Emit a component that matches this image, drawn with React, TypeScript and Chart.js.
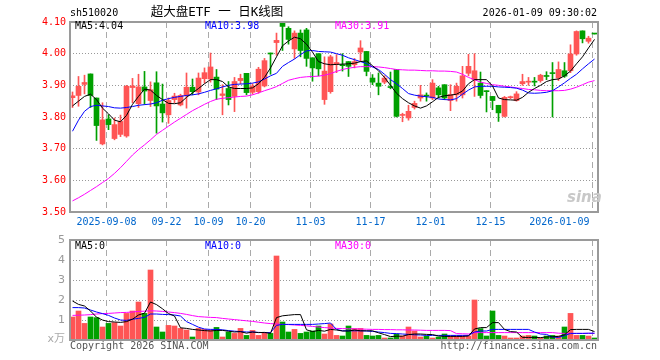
import React, { useEffect, useRef } from 'react';
import { Chart, registerables } from 'chart.js';

Chart.register(...registerables);

// ---- data ----
const openPrice = [
  3.861, 3.868, 3.903, 3.936, 3.860, 3.715, 3.794, 3.732, 3.745, 3.740,
  3.893, 3.842, 3.895, 3.852, 3.908, 3.841, 3.807, 3.855, 3.838, 3.868,
  3.894, 3.879, 3.921, 3.920, 3.926, 3.868, 3.890, 3.865, 3.915, 3.938,
  3.878, 3.880, 3.898, 4.001, 4.035, 4.100, 4.080, 4.015, 4.065, 4.075,
  3.987, 4.000, 3.855, 3.880, 3.968, 3.965, 3.975, 3.965, 4.005, 4.007,
  3.923, 3.907, 3.910, 3.896, 3.950, 3.805, 3.797, 3.830, 3.860, 3.869,
  3.860, 3.892, 3.902, 3.852, 3.870, 3.870, 3.938, 3.918, 3.907, 3.883,
  3.865, 3.837, 3.802, 3.861, 3.852, 3.905, 3.910, 3.912, 3.915, 3.930,
  3.940, 3.923, 3.946, 3.946, 3.999, 4.072, 4.039, 4.063,
];
const highPrice = [
  3.879, 3.928, 3.932, 3.936, 3.860, 3.845, 3.807, 3.797, 3.806, 3.900,
  3.922, 3.935, 3.944, 3.911, 3.943, 3.904, 3.860, 3.875, 3.872, 3.939,
  3.920, 3.939, 3.955, 4.002, 3.950, 3.902, 3.912, 3.925, 3.935, 3.938,
  3.905, 3.957, 3.985, 4.002, 4.065, 4.100, 4.085, 4.072, 4.075, 4.080,
  3.987, 4.000, 3.990, 3.995, 3.997, 4.000, 3.975, 3.985, 4.041, 4.007,
  3.934, 3.939, 3.930, 3.942, 3.950, 3.812, 3.837, 3.850, 3.900, 3.876,
  3.918, 3.897, 3.902, 3.902, 3.907, 3.960, 3.998, 4.000, 3.942, 3.883,
  3.865, 3.837, 3.865, 3.866, 3.880, 3.935, 3.925, 3.925, 3.935, 3.943,
  3.972, 3.974, 3.972, 4.028, 4.072, 4.072, 4.055, 4.063,
];
const lowPrice = [
  3.830, 3.834, 3.873, 3.830, 3.726, 3.712, 3.760, 3.728, 3.738, 3.736,
  3.845, 3.830, 3.840, 3.833, 3.749, 3.784, 3.780, 3.845, 3.835, 3.828,
  3.870, 3.870, 3.907, 3.910, 3.855, 3.807, 3.838, 3.817, 3.905, 3.870,
  3.872, 3.875, 3.895, 3.935, 3.995, 4.010, 4.030, 3.985, 3.990, 3.960,
  3.913, 3.930, 3.840, 3.875, 3.940, 3.945, 3.928, 3.955, 3.976, 3.930,
  3.902, 3.870, 3.905, 3.889, 3.800, 3.785, 3.790, 3.825, 3.850, 3.850,
  3.855, 3.860, 3.855, 3.820, 3.850, 3.860, 3.930, 3.865, 3.860, 3.816,
  3.823, 3.786, 3.800, 3.858, 3.850, 3.900, 3.900, 3.898, 3.910, 3.918,
  3.800, 3.915, 3.925, 3.940, 3.995, 4.034, 4.033, 4.062,
];
const closePrice = [
  3.867, 3.897, 3.909, 3.868, 3.773, 3.791, 3.776, 3.776, 3.786, 3.897,
  3.898, 3.895, 3.882, 3.886, 3.835, 3.813, 3.852, 3.866, 3.868, 3.894,
  3.880, 3.923, 3.940, 3.958, 3.888, 3.873, 3.855, 3.912, 3.922, 3.877,
  3.898, 3.951, 3.978, 3.999, 4.042, 4.086, 4.045, 4.065, 4.010, 3.985,
  3.955, 3.952, 3.945, 3.990, 3.972, 3.962, 3.960, 3.975, 4.018, 3.944,
  3.910, 3.897, 3.923, 3.893, 3.802, 3.808, 3.818, 3.843, 3.870, 3.866,
  3.907, 3.870, 3.860, 3.871, 3.897, 3.930, 3.960, 3.946, 3.868, 3.880,
  3.852, 3.813, 3.862, 3.864, 3.873, 3.912, 3.913, 3.910, 3.932, 3.928,
  3.937, 3.950, 3.929, 3.999, 4.070, 4.047, 4.049, 4.062,
];
const ma5 = [
  3.835, 3.850, 3.865, 3.872, 3.855, 3.828, 3.810, 3.790, 3.785, 3.805,
  3.840, 3.865, 3.888, 3.885, 3.868, 3.855, 3.843, 3.842, 3.845, 3.862,
  3.876, 3.890, 3.905, 3.918, 3.918, 3.912, 3.895, 3.890, 3.890, 3.890,
  3.892, 3.905, 3.925, 3.955, 3.990, 4.025, 4.040, 4.052, 4.047, 4.030,
  4.005, 3.975, 3.968, 3.965, 3.966, 3.967, 3.968, 3.970, 3.975, 3.977,
  3.962, 3.946, 3.925, 3.900, 3.875, 3.858, 3.845, 3.835, 3.828, 3.835,
  3.848, 3.862, 3.867, 3.869, 3.872, 3.882, 3.905, 3.918, 3.918, 3.918,
  3.898, 3.860, 3.855, 3.854, 3.853, 3.862, 3.878, 3.890, 3.900, 3.912,
  3.918, 3.920, 3.930, 3.945, 3.968, 3.990, 4.018, 4.045,
];
const ma10 = [
  3.755, 3.790, 3.818, 3.833, 3.837, 3.835, 3.833, 3.829, 3.828, 3.830,
  3.833, 3.837, 3.839, 3.841, 3.845, 3.853, 3.858, 3.862, 3.865, 3.868,
  3.870, 3.873, 3.878, 3.884, 3.889, 3.895, 3.900, 3.903, 3.904, 3.905,
  3.907, 3.911, 3.920, 3.930, 3.938, 3.960, 3.972, 3.983, 3.997, 4.009,
  4.010, 4.007, 4.006, 4.005, 4.000, 3.995, 3.987, 3.981, 3.975, 3.969,
  3.958, 3.950, 3.935, 3.918, 3.905, 3.890, 3.874, 3.869, 3.866, 3.864,
  3.862, 3.857, 3.855, 3.854, 3.858, 3.872, 3.885, 3.895, 3.897, 3.897,
  3.897, 3.895, 3.894, 3.893, 3.891, 3.885, 3.876, 3.875, 3.876, 3.878,
  3.883, 3.895, 3.908, 3.922, 3.935, 3.952, 3.968, 3.983,
];
const ma30 = [
  3.535, 3.545, 3.556, 3.568, 3.580, 3.593, 3.606, 3.622, 3.640, 3.660,
  3.680, 3.697, 3.712, 3.728, 3.745, 3.758, 3.771, 3.784, 3.796, 3.808,
  3.820, 3.830, 3.840, 3.849, 3.856, 3.859, 3.861, 3.863, 3.865, 3.866,
  3.870, 3.876, 3.883, 3.889, 3.896, 3.906, 3.916, 3.921, 3.925, 3.927,
  3.928, 3.929, 3.932, 3.937, 3.944, 3.950, 3.954, 3.957, 3.959, 3.959,
  3.959, 3.958, 3.956, 3.953, 3.950, 3.949, 3.948, 3.948, 3.947, 3.946,
  3.946, 3.945, 3.945, 3.944, 3.942, 3.935, 3.925, 3.918, 3.910, 3.906,
  3.902, 3.900, 3.897, 3.895, 3.892, 3.890, 3.887, 3.886, 3.884, 3.883,
  3.883, 3.883, 3.884, 3.888, 3.894, 3.902, 3.910, 3.915,
];
const volume = [
  1.15, 1.45, 0.83, 1.15, 1.12, 0.65, 0.83, 0.87, 0.70, 1.33,
  1.45, 1.90, 1.33, 3.50, 0.65, 0.40, 0.73, 0.70, 0.58, 0.50,
  0.15, 0.58, 0.53, 0.50, 0.63, 0.15, 0.40, 0.33, 0.58, 0.23,
  0.48, 0.23, 0.37, 0.33, 4.20, 0.90, 0.40, 0.53, 0.33, 0.40,
  0.45, 0.70, 0.30, 0.80, 0.23, 0.20, 0.70, 0.57, 0.58, 0.23,
  0.20, 0.23, 0.10, 0.10, 0.30, 0.20, 0.65, 0.45, 0.15, 0.20,
  0.10, 0.15, 0.30, 0.20, 0.20, 0.20, 0.20, 2.00, 0.57, 0.20,
  1.45, 0.23, 0.20, 0.10, 0.10, 0.20, 0.23, 0.20, 0.10, 0.20,
  0.23, 0.20, 0.65, 1.33, 0.23, 0.23, 0.20, 0.10,
];
const volMa5 = [
  1.95, 1.78, 1.70, 1.45, 1.14, 1.00, 0.92, 0.90, 0.88, 0.92,
  1.04, 1.25, 1.34, 1.90, 1.77, 1.56, 1.32, 1.20, 0.61, 0.58,
  0.53, 0.50, 0.47, 0.45, 0.48, 0.48, 0.44, 0.40, 0.42, 0.34,
  0.40, 0.37, 0.38, 0.33, 1.12, 1.21, 1.24, 1.27, 1.27, 0.51,
  0.42, 0.48, 0.44, 0.53, 0.50, 0.45, 0.45, 0.50, 0.46, 0.46,
  0.46, 0.36, 0.27, 0.17, 0.19, 0.19, 0.27, 0.30, 0.30, 0.28,
  0.27, 0.20, 0.18, 0.18, 0.18, 0.18, 0.20, 0.55, 0.62, 0.62,
  0.87, 0.87, 0.53, 0.42, 0.40, 0.13, 0.13, 0.13, 0.12, 0.15,
  0.16, 0.18, 0.26, 0.52, 0.53, 0.53, 0.53, 0.42,
];
const volMa10 = [
  1.62, 1.62, 1.60, 1.50, 1.40, 1.32, 1.23, 1.10, 1.00, 0.98,
  1.04, 1.08, 1.13, 1.30, 1.30, 1.28, 1.27, 1.25, 1.20, 0.92,
  0.78, 0.64, 0.55, 0.53, 0.53, 0.51, 0.47, 0.44, 0.42, 0.40,
  0.40, 0.38, 0.37, 0.37, 0.73, 0.78, 0.78, 0.78, 0.78, 0.78,
  0.78, 0.80, 0.82, 0.85, 0.53, 0.46, 0.46, 0.46, 0.46, 0.45,
  0.43, 0.40, 0.37, 0.33, 0.32, 0.30, 0.28, 0.26, 0.25, 0.23,
  0.23, 0.23, 0.23, 0.23, 0.23, 0.23, 0.23, 0.40, 0.45, 0.45,
  0.53, 0.53, 0.53, 0.53, 0.53, 0.53, 0.53, 0.40, 0.30, 0.28,
  0.15, 0.13, 0.22, 0.33, 0.33, 0.33, 0.34, 0.34,
];
const volMa30 = [
  1.23, 1.24, 1.25, 1.27, 1.30, 1.32, 1.33, 1.35, 1.37, 1.38,
  1.40, 1.43, 1.44, 1.46, 1.45, 1.43, 1.40, 1.37, 1.33, 1.28,
  1.22, 1.17, 1.15, 1.13, 1.12, 1.08, 1.05, 1.02, 0.99, 0.96,
  0.93, 0.89, 0.85, 0.82, 0.80, 0.78, 0.77, 0.75, 0.73, 0.71,
  0.68, 0.65, 0.62, 0.60, 0.58, 0.57, 0.56, 0.56, 0.55, 0.54,
  0.53, 0.53, 0.52, 0.52, 0.51, 0.51, 0.50, 0.50, 0.49, 0.48,
  0.48, 0.48, 0.48, 0.47, 0.32, 0.31, 0.30, 0.37, 0.37, 0.37,
  0.37, 0.37, 0.37, 0.37, 0.37, 0.37, 0.37, 0.37, 0.37, 0.37,
  0.37, 0.34, 0.33, 0.33, 0.33, 0.33, 0.33, 0.33,
];
const dateTickIndex = [6, 16, 23, 30, 40, 50, 60, 70, 87];
const dateTickLabels = ['2025-09-08', '09-22', '10-09', '10-20', '11-03', '11-17', '12-01', '12-15', '2026-01-09'];

// ---- styling ----
const RED = '#ff5555';
const GREEN = '#00a000';
const MONO = "'DejaVu Sans Mono', monospace";
const X_MIN = -2.5 / 6;
const X_MAX = X_MIN + openPrice.length;
const GRID_OFFSET = -0.35;

const idx = openPrice.map((_, i) => i);
const candleColors = idx.map((i) => (closePrice[i] >= openPrice[i] ? RED : GREEN));

function text(ctx: CanvasRenderingContext2D, s: string, x: number, y: number, color: string, font: string, align: CanvasTextAlign = 'left') {
  ctx.fillStyle = color;
  ctx.font = font;
  ctx.textAlign = align;
  ctx.textBaseline = 'middle';
  ctx.fillText(s, x, y);
}

function drawVerticalGrid(chart: any) {
  const { ctx, chartArea: a, scales } = chart;
  const x = scales.x;
  ctx.save();
  ctx.strokeStyle = '#aaaaaa';
  ctx.lineWidth = 1;
  ctx.setLineDash([6, 4]);
  dateTickIndex.forEach((i) => {
    const px = Math.round(x.getPixelForValue(i + GRID_OFFSET)) + 0.5;
    ctx.beginPath();
    ctx.moveTo(px, a.top);
    ctx.lineTo(px, a.bottom);
    ctx.stroke();
  });
  ctx.restore();
}

function drawFrame(chart: any) {
  const { ctx, chartArea: a } = chart;
  ctx.save();
  ctx.strokeStyle = '#9a9a9a';
  ctx.lineWidth = 2;
  ctx.setLineDash([]);
  ctx.strokeRect(a.left, a.top, a.right - a.left, a.bottom - a.top);
  ctx.restore();
}

const priceDecor = {
  id: 'priceDecor',
  beforeDatasetsDraw(chart: any) {
    drawVerticalGrid(chart);
  },
  afterDraw(chart: any) {
    const { ctx, chartArea: a, scales } = chart;
    const x = scales.x;
    drawFrame(chart);
    ctx.save();
    text(ctx, 'sh510020', 70, 13, '#000', `10px ${MONO}`);
    text(ctx, '超大盘ETF 一 日K线图', 217, 12.5, '#000', `12.5px 'DejaVu Sans Mono', 'Noto Sans CJK SC', sans-serif`, 'center');
    text(ctx, '2026-01-09 09:30:02', 597, 13, '#000', `10px ${MONO}`, 'right');
    text(ctx, 'MA5:4.04', 75, 26, '#000', `10px ${MONO}`);
    text(ctx, 'MA10:3.98', 205, 26, '#0000ff', `10px ${MONO}`);
    text(ctx, 'MA30:3.91', 335, 26, '#ff00ff', `10px ${MONO}`);
    dateTickIndex.forEach((i, k) => {
      const px = Math.round(x.getPixelForValue(i + GRID_OFFSET)) + 0.5;
      const last = k === dateTickIndex.length - 1;
      text(ctx, dateTickLabels[k], last ? px - 3 : px, a.bottom + 10.5, '#0066cc', `10px ${MONO}`, last ? 'right' : 'center');
    });
    text(ctx, 'sina', 567, 198, '#c8c8c8', `italic bold 15px 'DejaVu Sans', sans-serif`);
    ctx.restore();
  },
};

const volumeDecor = {
  id: 'volumeDecor',
  beforeDatasetsDraw(chart: any) {
    drawVerticalGrid(chart);
  },
  afterDraw(chart: any) {
    const { ctx } = chart;
    drawFrame(chart);
    ctx.save();
    text(ctx, 'MA5:0', 75, 246, '#000', `10px ${MONO}`);
    text(ctx, 'MA10:0', 205, 246, '#0000ff', `10px ${MONO}`);
    text(ctx, 'MA30:0', 335, 246, '#ff00ff', `10px ${MONO}`);
    text(ctx, 'x万', 65, 339, '#aaaaaa', `11px 'DejaVu Sans', 'Noto Sans CJK SC', sans-serif`, 'right');
    text(ctx, 'Copyright 2026 SINA.COM', 70, 346, '#555', `10px ${MONO}`);
    text(ctx, 'http://finance.sina.com.cn', 597, 346, '#555', `10px ${MONO}`, 'right');
    ctx.restore();
  },
};

function lineDs(values: number[], color: string) {
  return {
    type: 'line' as const,
    data: idx.map((i) => ({ x: i, y: values[i] })),
    borderColor: color,
    borderWidth: 1,
    pointRadius: 0,
    tension: 0,
    fill: false,
    order: 0,
  };
}

export default function App() {
  const priceRef = useRef<HTMLCanvasElement>(null);
  const volRef = useRef<HTMLCanvasElement>(null);

  useEffect(() => {
    const common = {
      animation: false as const,
      responsive: false,
      devicePixelRatio: 1,
      events: [] as any[],
      plugins: { legend: { display: false }, tooltip: { enabled: false } },
    };

    const priceChart = new Chart(priceRef.current as HTMLCanvasElement, {
      type: 'bar',
      data: {
        datasets: [
          lineDs(ma5, '#000000'),
          lineDs(ma10, '#0000ff'),
          lineDs(ma30, '#ff00ff'),
          {
            type: 'bar',
            data: idx.map((i) => ({ x: i, y: [lowPrice[i], highPrice[i]] })) as any,
            backgroundColor: candleColors,
            barThickness: 1,
            grouped: false,
            order: 2,
          },
          {
            type: 'bar',
            data: idx.map((i) => ({ x: i, y: [openPrice[i], closePrice[i]] })) as any,
            backgroundColor: candleColors,
            barThickness: 5,
            minBarLength: 1,
            grouped: false,
            order: 1,
          },
        ] as any,
      },
      options: {
        ...common,
        layout: { padding: { left: 0, right: 62, top: 22, bottom: 148 } },
        scales: {
          x: { type: 'linear', min: X_MIN, max: X_MAX, display: false, offset: false },
          y: {
            type: 'linear',
            min: 3.5,
            max: 4.1,
            position: 'left',
            afterFit: (s: any) => { s.width = 70; },
            ticks: {
              stepSize: 0.1,
              color: '#ff0000',
              font: { family: MONO, size: 10 },
              padding: 4,
              callback: (v: any) => Number(v).toFixed(2),
            },
            grid: { color: '#999999', lineWidth: 1, drawTicks: false },
            border: { display: false, dash: [1, 2] },
          },
        },
      } as any,
      plugins: [priceDecor],
    });

    const volChart = new Chart(volRef.current as HTMLCanvasElement, {
      type: 'bar',
      data: {
        datasets: [
          lineDs(volMa5, '#000000'),
          lineDs(volMa10, '#0000ff'),
          lineDs(volMa30, '#ff00ff'),
          {
            type: 'bar',
            data: idx.map((i) => ({ x: i, y: volume[i] })) as any,
            backgroundColor: candleColors,
            barThickness: 5,
            grouped: false,
            order: 1,
          },
        ] as any,
      },
      options: {
        ...common,
        layout: { padding: { left: 0, right: 62, top: 240, bottom: 20 } },
        scales: {
          x: { type: 'linear', min: X_MIN, max: X_MAX, display: false, offset: false },
          y: {
            type: 'linear',
            min: 0,
            max: 5,
            position: 'left',
            afterFit: (s: any) => { s.width = 70; },
            ticks: {
              stepSize: 1,
              color: '#999999',
              font: { family: "'DejaVu Sans', sans-serif", size: 11 },
              padding: 5,
              callback: (v: any) => (Number(v) === 0 ? '' : String(v)),
            },
            grid: { color: '#999999', lineWidth: 1, drawTicks: false },
            border: { display: false, dash: [1, 2] },
          },
        },
      } as any,
      plugins: [volumeDecor],
    });

    return () => {
      priceChart.destroy();
      volChart.destroy();
    };
  }, []);

  return (
    <div style={{ position: 'absolute', left: 0, top: 0, width: 660, height: 360, background: '#ffffff' }}>
      <canvas ref={priceRef} width={660} height={360} style={{ position: 'absolute', left: 0, top: 0 }} />
      <canvas ref={volRef} width={660} height={360} style={{ position: 'absolute', left: 0, top: 0 }} />
    </div>
  );
}
